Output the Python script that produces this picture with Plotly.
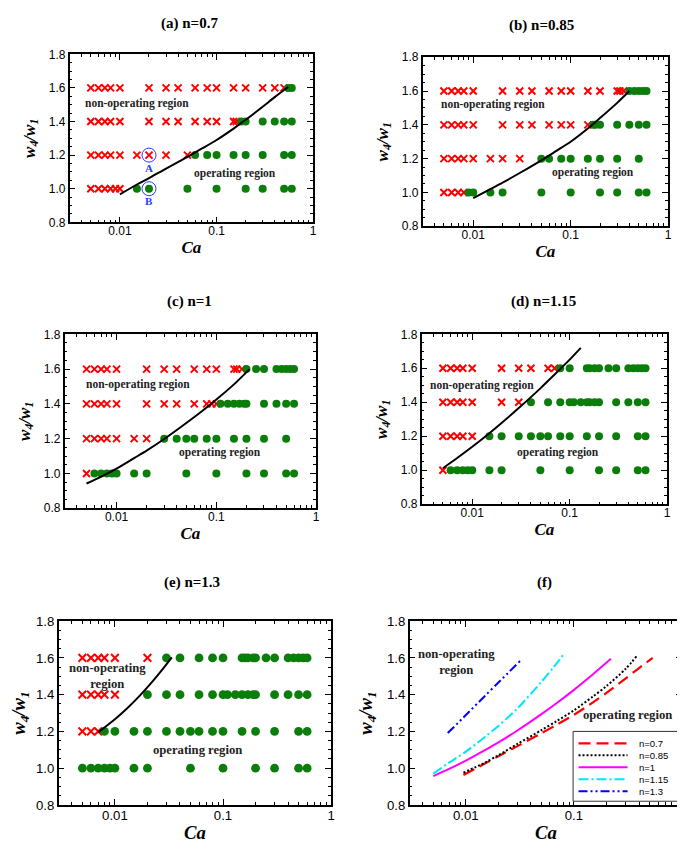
import plotly.graph_objects as go
import math

W, H = 685, 856

# ---------------- data ----------------
ROWS = [1.6, 1.4, 1.2, 1.0]

# panel (a) n=0.7
a_nonop = {1.6: [0.005, 0.006, 0.007, 0.008, 0.01, 0.02, 0.03, 0.04, 0.06, 0.08, 0.1, 0.15, 0.2, 0.3, 0.4, 0.5],
           1.4: [0.005, 0.006, 0.007, 0.008, 0.01, 0.02, 0.03, 0.04, 0.06, 0.08, 0.1, 0.15, 0.16],
           1.2: [0.005, 0.006, 0.007, 0.008, 0.01, 0.015, 0.02, 0.03, 0.05],
           1.0: [0.005, 0.006, 0.007, 0.008, 0.009, 0.01]}
a_op = {1.6: [0.55, 0.6],
        1.4: [0.18, 0.2, 0.3, 0.4, 0.5, 0.6],
        1.2: [0.06, 0.08, 0.1, 0.15, 0.2, 0.3, 0.5, 0.6],
        1.0: [0.015, 0.02, 0.05, 0.1, 0.2, 0.3, 0.5, 0.6]}
a_curve_ca = [0.01, 0.015, 0.02, 0.03, 0.05, 0.07, 0.1, 0.15, 0.2, 0.3, 0.4, 0.55]
a_curve_w = [0.966, 1.025, 1.063, 1.12, 1.19, 1.238, 1.29, 1.358, 1.41, 1.488, 1.545, 1.605]
a_marked_ca = [0.02, 0.02]
a_marked_w = [1.2, 1.0]
a_marked_lbl = ["A", "B"]

# panel (b) n=0.85
b_nonop = {1.6: [0.005, 0.006, 0.007, 0.008, 0.01, 0.02, 0.03, 0.04, 0.06, 0.08, 0.1, 0.15, 0.2, 0.3, 0.32, 0.35],
           1.4: [0.005, 0.006, 0.007, 0.008, 0.01, 0.02, 0.03, 0.04, 0.06, 0.08, 0.1, 0.15],
           1.2: [0.005, 0.006, 0.007, 0.008, 0.01, 0.015, 0.02, 0.03],
           1.0: [0.005, 0.006, 0.007, 0.008]}
b_op = {1.6: [0.4, 0.45, 0.5, 0.55, 0.6],
        1.4: [0.17, 0.18, 0.2, 0.3, 0.4, 0.5, 0.6],
        1.2: [0.05, 0.06, 0.08, 0.1, 0.15, 0.2, 0.3, 0.5],
        1.0: [0.009, 0.01, 0.015, 0.02, 0.05, 0.1, 0.2, 0.3, 0.5, 0.6]}
b_curve_ca = [0.01, 0.015, 0.02, 0.03, 0.05, 0.07, 0.1, 0.15, 0.2, 0.3, 0.4]
b_curve_w = [0.967, 1.02, 1.058, 1.115, 1.19, 1.243, 1.30, 1.378, 1.44, 1.53, 1.6]

# panel (c) n=1
c_nonop = {1.6: [0.005, 0.006, 0.007, 0.008, 0.01, 0.02, 0.03, 0.04, 0.06, 0.08, 0.1, 0.15, 0.16, 0.18],
           1.4: [0.005, 0.006, 0.007, 0.008, 0.01, 0.02, 0.03, 0.04, 0.06, 0.08, 0.09, 0.1],
           1.2: [0.005, 0.006, 0.007, 0.008, 0.01, 0.015, 0.02],
           1.0: [0.005]}
c_op = {1.6: [0.2, 0.25, 0.3, 0.4, 0.45, 0.5, 0.55, 0.6],
        1.4: [0.11, 0.13, 0.15, 0.17, 0.19, 0.2, 0.3, 0.4, 0.5, 0.6],
        1.2: [0.03, 0.04, 0.05, 0.06, 0.08, 0.1, 0.15, 0.2, 0.3, 0.5],
        1.0: [0.006, 0.007, 0.008, 0.009, 0.01, 0.015, 0.02, 0.05, 0.1, 0.2, 0.3, 0.5, 0.6]}
c_curve_ca = [0.005, 0.007, 0.01, 0.015, 0.02, 0.03, 0.05, 0.07, 0.1, 0.15, 0.215]
c_curve_w = [0.942, 0.982, 1.028, 1.088, 1.131, 1.198, 1.29, 1.353, 1.425, 1.512, 1.6]

# panel (d) n=1.15
d_nonop = {1.6: [0.005, 0.006, 0.007, 0.008, 0.01, 0.02, 0.03, 0.04, 0.06, 0.07],
           1.4: [0.005, 0.006, 0.007, 0.008, 0.01, 0.02, 0.03],
           1.2: [0.005, 0.006, 0.007, 0.008, 0.01],
           1.0: [0.005]}
d_op = {1.6: [0.08, 0.1, 0.15, 0.16, 0.18, 0.2, 0.25, 0.3, 0.4, 0.45, 0.5, 0.55, 0.6],
        1.4: [0.04, 0.06, 0.08, 0.1, 0.11, 0.13, 0.15, 0.16, 0.18, 0.2, 0.3, 0.4, 0.5, 0.6],
        1.2: [0.015, 0.02, 0.03, 0.04, 0.05, 0.06, 0.08, 0.1, 0.15, 0.2, 0.3, 0.5, 0.6],
        1.0: [0.006, 0.007, 0.008, 0.009, 0.01, 0.015, 0.02, 0.05, 0.1, 0.2, 0.3, 0.5, 0.6]}
d_curve_ca = [0.005, 0.007, 0.01, 0.015, 0.02, 0.03, 0.05, 0.07, 0.1, 0.13]
d_curve_w = [1.012, 1.072, 1.138, 1.218, 1.278, 1.366, 1.482, 1.563, 1.651, 1.72]

# panel (e) n=1.3
e_nonop = {1.6: [0.005, 0.006, 0.007, 0.008, 0.01, 0.02],
           1.4: [0.005, 0.006, 0.007, 0.008, 0.01],
           1.2: [0.005, 0.006, 0.007],
           1.0: []}
e_op = {1.6: [0.03, 0.04, 0.06, 0.08, 0.1, 0.15, 0.16, 0.17, 0.19, 0.2, 0.25, 0.3, 0.4, 0.45, 0.5, 0.55, 0.6],
        1.4: [0.02, 0.03, 0.04, 0.06, 0.08, 0.1, 0.11, 0.13, 0.15, 0.17, 0.19, 0.2, 0.3, 0.4, 0.5, 0.6],
        1.2: [0.008, 0.01, 0.015, 0.02, 0.03, 0.04, 0.05, 0.06, 0.08, 0.1, 0.15, 0.2, 0.3, 0.5, 0.6],
        1.0: [0.005, 0.006, 0.007, 0.008, 0.009, 0.01, 0.015, 0.02, 0.05, 0.1, 0.2, 0.3, 0.5, 0.6]}
e_curve_ca = [0.007, 0.01, 0.013, 0.017, 0.022, 0.028, 0.0336]
e_curve_w = [1.195, 1.266, 1.326, 1.395, 1.468, 1.543, 1.603]

# panel (f) boundary comparison
f_names = ["n=0.7", "n=0.85", "n=1", "n=1.15", "n=1.3"]
f_n07_ca = [0.0095, 0.015, 0.02, 0.03, 0.05, 0.07, 0.1, 0.15, 0.2, 0.3, 0.4, 0.535]
f_n07_w = [0.963, 1.025, 1.065, 1.12, 1.19, 1.238, 1.29, 1.358, 1.41, 1.488, 1.545, 1.6]
f_n085_ca = [0.0095, 0.015, 0.02, 0.03, 0.05, 0.07, 0.1, 0.15, 0.2, 0.3, 0.386]
f_n085_w = [0.975, 1.03, 1.07, 1.132, 1.207, 1.258, 1.315, 1.39, 1.447, 1.54, 1.614]
f_n1_ca = [0.005, 0.007, 0.01, 0.015, 0.02, 0.03, 0.05, 0.07, 0.1, 0.15, 0.22]
f_n1_w = [0.957, 0.996, 1.041, 1.098, 1.14, 1.205, 1.294, 1.356, 1.426, 1.511, 1.595]
f_n115_ca = [0.005, 0.007, 0.01, 0.015, 0.02, 0.03, 0.05, 0.065, 0.082]
f_n115_w = [0.97, 1.03, 1.09, 1.17, 1.23, 1.325, 1.47, 1.55, 1.627]
f_n13_ca = [0.0068, 0.01, 0.015, 0.02, 0.0317]
f_n13_w = [1.191, 1.289, 1.393, 1.466, 1.583]

x_tickvals = [0.01, 0.1, 1]
x_ticktext = ["0.01", "0.1", "1"]
y_tickvals = [0.8, 1.0, 1.2, 1.4, 1.6, 1.8]

titles = ["(a) n=0.7", "(b) n=0.85", "(c) n=1", "(d) n=1.15", "(e) n=1.3", "(f)"]

# ---------------- layout geometry (pixels) ----------------
boxes = [  # left, right, top, bottom
    (62, 307, 40, 211),
    (417, 664, 43, 215),
    (57, 310, 325, 502),
    (416, 663, 325, 498),
    (51, 325, 617, 804),
    (404, 678, 617, 804),
]
scale = [1, 1, 1, 1, 1.1, 1.1]  # bottom-row panels are drawn slightly larger
title_pos = [(183, 9), (537, 11), (183, 292), (539, 292), (185, 578), (540, 578)]

RED = "#ff0000"
GREEN = "#0b7d0b"
BLUE_MARK = "#2a3cff"
SERIF = "Liberation Serif, Times New Roman, serif"
SANS = "Liberation Sans, Arial, sans-serif"

fig = go.Figure()


def axname(i, kind):
    return kind if i == 0 else f"{kind}{i + 1}"


def ref(i, kind):
    return kind[0] if i == 0 else f"{kind[0]}{i + 1}"


def add_points(i, nonop, op):
    s = scale[i]
    xs, ys = [], []
    for r in ROWS:
        xs += nonop[r]
        ys += [r] * len(nonop[r])
    fig.add_trace(go.Scatter(x=xs, y=ys, mode="markers", xaxis=ref(i, "x"), yaxis=ref(i, "y"),
                             marker=dict(symbol="x-thin-open", size=7 * s, color=RED,
                                         line=dict(color=RED, width=2)),
                             showlegend=False, hoverinfo="skip"))
    xs, ys = [], []
    for r in ROWS:
        xs += op[r]
        ys += [r] * len(op[r])
    fig.add_trace(go.Scatter(x=xs, y=ys, mode="markers", xaxis=ref(i, "x"), yaxis=ref(i, "y"),
                             marker=dict(symbol="circle", size=8 * s, color=GREEN, line=dict(width=0)),
                             showlegend=False, hoverinfo="skip"))


def add_curve(i, ca, w):
    fig.add_trace(go.Scatter(x=ca, y=w, mode="lines", xaxis=ref(i, "x"), yaxis=ref(i, "y"),
                             line=dict(color="black", width=2, shape="spline", smoothing=0.8),
                             showlegend=False, hoverinfo="skip"))


panels = [(a_nonop, a_op, a_curve_ca, a_curve_w), (b_nonop, b_op, b_curve_ca, b_curve_w),
          (c_nonop, c_op, c_curve_ca, c_curve_w), (d_nonop, d_op, d_curve_ca, d_curve_w),
          (e_nonop, e_op, e_curve_ca, e_curve_w)]

for i, (nonop, op, cca, cw) in enumerate(panels):
    add_points(i, nonop, op)
    add_curve(i, cca, cw)

# marked points A, B in panel (a)
fig.add_trace(go.Scatter(x=a_marked_ca, y=a_marked_w, mode="markers", xaxis="x", yaxis="y",
                         marker=dict(symbol="circle-open", size=14, color=BLUE_MARK,
                                     line=dict(color=BLUE_MARK, width=1)),
                         showlegend=False, hoverinfo="skip"))

# panel (f) curves
f_styles = [
    dict(color="#ff0000", width=2.2, dash="12px,6px"),
    dict(color="#000000", width=2, dash="2px,2px"),
    dict(color="#ff00ff", width=2),
    dict(color="#00e5ff", width=2, dash="10px,3px,2px,3px"),
    dict(color="#0000ff", width=2, dash="9px,3px,2px,3px,2px,3px"),
]
f_data = [(f_n07_ca, f_n07_w), (f_n085_ca, f_n085_w), (f_n1_ca, f_n1_w),
          (f_n115_ca, f_n115_w), (f_n13_ca, f_n13_w)]
for name, (ca, w), st in zip(f_names, f_data, f_styles):
    fig.add_trace(go.Scatter(x=ca, y=w, mode="lines", name=name, xaxis="x6", yaxis="y6",
                             line=dict(shape="spline", smoothing=0.8, **st),
                             showlegend=False, hoverinfo="skip"))

# ---------------- axes ----------------
layout = dict(width=W, height=H, margin=dict(l=0, r=0, t=0, b=0),
              paper_bgcolor="white", plot_bgcolor="white", showlegend=False)

for i, (l, r, t, b) in enumerate(boxes):
    s = scale[i]
    xd = [l / W, r / W]
    yd = [1 - b / H, 1 - t / H]
    layout[axname(i, "xaxis")] = dict(
        type="log", range=[-2.52, 0], domain=xd, anchor=ref(i, "y"),
        showline=True, linecolor="black", linewidth=1.5, mirror="ticks",
        ticks="inside", ticklen=6, tickwidth=1, tickcolor="black",
        tickvals=x_tickvals, ticktext=x_ticktext, showgrid=False, zeroline=False,
        minor=dict(ticks="inside", ticklen=3, tickcolor="black", dtick="D1", showgrid=False),
        tickfont=dict(family=SANS, size=12 * s, color="black"), ticklabelstandoff=-3,
        title=dict(text="<b><i>Ca</i></b>", font=dict(family=SERIF, size=17 * s, color="black"), standoff=4),
    )
    layout[axname(i, "yaxis")] = dict(
        range=[0.8, 1.8], domain=yd, anchor=ref(i, "x"),
        showline=True, linecolor="black", linewidth=1.5, mirror="ticks",
        ticks="inside", ticklen=6, tickwidth=1, tickcolor="black",
        tickvals=y_tickvals, tickformat=".1f", showgrid=False, zeroline=False,
        minor=dict(ticks="inside", ticklen=3, tickcolor="black", dtick=0.05, showgrid=False),
        tickfont=dict(family=SANS, size=12 * s, color="black"),
        title=dict(text="<b><i>w<sub>4</sub>/w<sub>1</sub></i></b>",
                   font=dict(family=SERIF, size=17 * s, color="black"), standoff=9),
    )

annotations = []
shapes = []
for (tx, ty), txt in zip(title_pos, titles):
    annotations.append(dict(x=tx / W, y=1 - ty / H, xref="paper", yref="paper", text=f"<b>{txt}</b>",
                            showarrow=False, font=dict(family=SERIF, size=15, color="black"),
                            xanchor="center", yanchor="middle"))

region_txt = [
    (0, -1.82, 1.51, "non-operating region"), (0, -0.81, 1.088, "operating region"),
    (1, -1.80, 1.519, "non-operating region"), (1, -0.77, 1.12, "operating region"),
    (2, -1.79, 1.514, "non-operating region"), (2, -0.965, 1.12, "operating region"),
    (3, -1.90, 1.496, "non-operating region"), (3, -1.12, 1.104, "operating region"),
    (4, -2.073, 1.50, "non-operating<br>region"), (4, -1.238, 1.097, "operating region"),
    (5, -2.085, 1.578, "non-operating<br>region"), (5, -0.50, 1.29, "operating region"),
]
for i, x, y, txt in region_txt:
    annotations.append(dict(x=x, y=y, xref=ref(i, "x"), yref=ref(i, "y"), text=f"<b>{txt}</b>",
                            showarrow=False,
                            font=dict(family=SERIF, size=11.5 * scale[i], color="#222222"),
                            xanchor="center", yanchor="middle"))

for ca, w, lbl in zip(a_marked_ca, a_marked_w, a_marked_lbl):
    annotations.append(dict(x=math.log10(ca), y=w - 0.075, xref="x", yref="y", text=f"<b>{lbl}</b>",
                            showarrow=False, font=dict(family=SERIF, size=11, color=BLUE_MARK),
                            xanchor="center", yanchor="middle"))

# legend box for panel (f), placed in the panel's domain coordinates
LEG = dict(x0=0.60, x1=0.998, y0=0.02, y1=0.40)
leg_key_x = (0.62, 0.80)
leg_text_x = 0.835
leg_row_y = [0.335, 0.27, 0.205, 0.14, 0.075]
shapes.append(dict(type="rect", xref="x6 domain", yref="y6 domain", layer="above",
                   fillcolor="white", line=dict(color="#333333", width=1), **LEG))
for name, st, yy in zip(f_names, f_styles, leg_row_y):
    shapes.append(dict(type="line", xref="x6 domain", yref="y6 domain", layer="above",
                       x0=leg_key_x[0], x1=leg_key_x[1], y0=yy, y1=yy,
                       line=dict(color=st["color"], width=st["width"], dash=st.get("dash", "solid"))))
    annotations.append(dict(x=leg_text_x, y=yy, xref="x6 domain", yref="y6 domain", text=name,
                            showarrow=False, font=dict(family=SANS, size=9.5, color="black"),
                            xanchor="left", yanchor="middle"))

layout["annotations"] = annotations
layout["shapes"] = shapes
fig.update_layout(**layout)

fig.write_html("out.html")
